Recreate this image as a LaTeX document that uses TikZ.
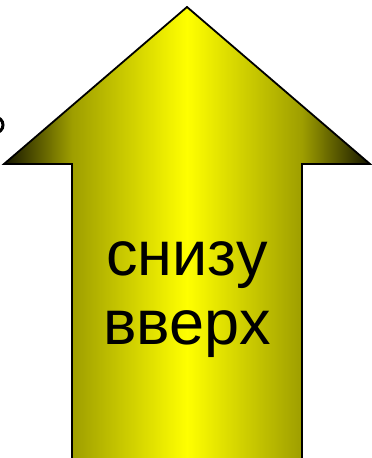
\documentclass[tikz,border=0pt]{standalone}
\usepackage{fontspec}
\setmainfont{Liberation Sans}
\pgfdeclarehorizontalshading{arrowshade}{100bp}{%
  rgb(0bp)=(0,0,0);
  rgb(25bp)=(0.08,0.08,0);
  rgb(34.3bp)=(0.62,0.62,0);
  rgb(50bp)=(1,1,0);
  rgb(65.7bp)=(0.62,0.62,0);
  rgb(75bp)=(0.08,0.08,0);
  rgb(100bp)=(0,0,0)}
\tikzset{
  bigarrow/.style={draw=black,line width=1.8pt,line join=miter,shading=arrowshade},
  arrowtext/.style={font=\fontsize{63}{70}\selectfont,text=black,anchor=base,inner sep=0pt}
}
\begin{document}
\begin{tikzpicture}[x=1pt,y=-1pt]
\useasboundingbox (0,0) rectangle (372,458);
\path[bigarrow] (187,7) -- (370,164) -- (302,164) -- (302,470) -- (72,470) -- (72,164) -- (4,164) -- cycle;
\node[arrowtext] (t1) at (187,275) {снизу};
\node[arrowtext] (t2) at (187,344) {вверх};
\draw[line width=3pt] (-5,133) arc[start angle=90,end angle=-90,radius=8];
\end{tikzpicture}
\end{document}
